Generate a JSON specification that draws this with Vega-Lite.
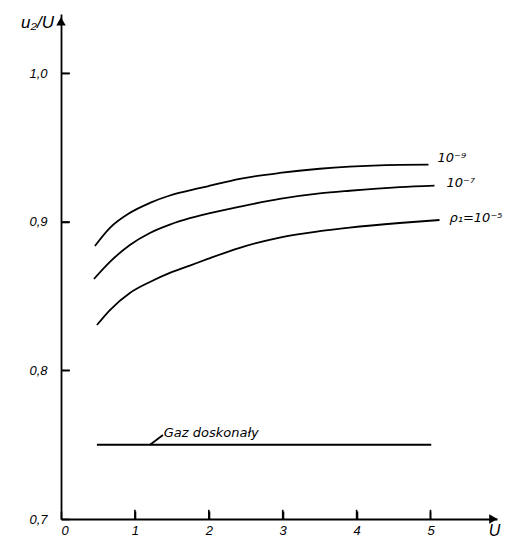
{
  "$schema": "https://vega.github.io/schema/vega-lite/v6.json",
  "autosize": "none",
  "width": 436,
  "height": 505,
  "padding": {"left": 61, "top": 14, "right": 12, "bottom": 22},
  "background": "white",
  "config": {
    "view": {"stroke": null},
    "font": "Liberation Sans",
    "axis": {
      "grid": false,
      "domainColor": "black",
      "domainWidth": 1.8,
      "tickColor": "black",
      "tickWidth": 1.6,
      "labelFont": "Liberation Sans",
      "labelFontStyle": "italic",
      "labelFontSize": 13,
      "labelColor": "black",
      "titleFont": "Liberation Sans",
      "titleFontStyle": "italic",
      "titleFontWeight": "normal",
      "titleColor": "black"
    }
  },
  "datasets": {
    "curves": [
      {"s": "p9", "u": 0.459, "v": 0.8838},
      {"s": "p9", "u": 0.662, "v": 0.8960},
      {"s": "p9", "u": 0.932, "v": 0.9061},
      {"s": "p9", "u": 1.203, "v": 0.9128},
      {"s": "p9", "u": 1.473, "v": 0.9178},
      {"s": "p9", "u": 1.743, "v": 0.9212},
      {"s": "p9", "u": 1.986, "v": 0.9240},
      {"s": "p9", "u": 2.419, "v": 0.9290},
      {"s": "p9", "u": 2.959, "v": 0.9330},
      {"s": "p9", "u": 3.5, "v": 0.9358},
      {"s": "p9", "u": 3.905, "v": 0.9372},
      {"s": "p9", "u": 4.581, "v": 0.9384},
      {"s": "p9", "u": 4.973, "v": 0.9386},
      {"s": "p7", "u": 0.446, "v": 0.8616},
      {"s": "p7", "u": 0.662, "v": 0.8731},
      {"s": "p7", "u": 0.932, "v": 0.8845},
      {"s": "p7", "u": 1.203, "v": 0.8926},
      {"s": "p7", "u": 1.473, "v": 0.8982},
      {"s": "p7", "u": 1.743, "v": 0.9025},
      {"s": "p7", "u": 1.986, "v": 0.9056},
      {"s": "p7", "u": 2.419, "v": 0.9103},
      {"s": "p7", "u": 2.959, "v": 0.9155},
      {"s": "p7", "u": 3.5, "v": 0.9192},
      {"s": "p7", "u": 3.905, "v": 0.9210},
      {"s": "p7", "u": 4.581, "v": 0.9234},
      {"s": "p7", "u": 5.054, "v": 0.9244},
      {"s": "p5", "u": 0.486, "v": 0.8306},
      {"s": "p5", "u": 0.662, "v": 0.8407},
      {"s": "p5", "u": 0.932, "v": 0.8522},
      {"s": "p5", "u": 1.203, "v": 0.8596},
      {"s": "p5", "u": 1.473, "v": 0.8657},
      {"s": "p5", "u": 1.743, "v": 0.8706},
      {"s": "p5", "u": 1.986, "v": 0.8751},
      {"s": "p5", "u": 2.419, "v": 0.8826},
      {"s": "p5", "u": 2.959, "v": 0.8895},
      {"s": "p5", "u": 3.5, "v": 0.8938},
      {"s": "p5", "u": 3.905, "v": 0.8962},
      {"s": "p5", "u": 4.581, "v": 0.8993},
      {"s": "p5", "u": 5.122, "v": 0.9013},
      {"s": "gaz", "u": 0.486, "v": 0.75},
      {"s": "gaz", "u": 5.01, "v": 0.75},
      {"s": "leader", "u": 1.2, "v": 0.7498},
      {"s": "leader", "u": 1.38, "v": 0.7565}
    ],
    "ticks": [
      {"s": "x1", "u": 1, "v": 0.7}, {"s": "x1", "u": 1, "v": 0.7062},
      {"s": "x2", "u": 2, "v": 0.7}, {"s": "x2", "u": 2, "v": 0.7062},
      {"s": "x3", "u": 3, "v": 0.7}, {"s": "x3", "u": 3, "v": 0.7062},
      {"s": "x4", "u": 4, "v": 0.7}, {"s": "x4", "u": 4, "v": 0.7062},
      {"s": "x5", "u": 5, "v": 0.7}, {"s": "x5", "u": 5, "v": 0.7062},
      {"s": "y8", "u": 0, "v": 0.8}, {"s": "y8", "u": 0.12, "v": 0.8},
      {"s": "y9", "u": 0, "v": 0.9}, {"s": "y9", "u": 0.12, "v": 0.9},
      {"s": "y10", "u": 0, "v": 1.0}, {"s": "y10", "u": 0.12, "v": 1.0}
    ],
    "labels": [
      {"u": 5.095, "v": 0.9431, "t": "10⁻⁹"},
      {"u": 5.216, "v": 0.9263, "t": "10⁻⁷"},
      {"u": 5.257, "v": 0.9027, "t": "ρ₁=10⁻⁵"},
      {"u": 1.39, "v": 0.7579, "t": "Gaz doskonały"}
    ],
    "arrows": [
      {"u": 5.85, "v": 0.7, "shape": "triangle-right"},
      {"u": 0, "v": 1.035, "shape": "triangle-up"}
    ]
  },
  "layer": [
    {
      "data": {"name": "curves"},
      "mark": {"type": "line", "interpolate": "monotone", "color": "black", "strokeWidth": 1.8},
      "encoding": {
        "x": {
          "field": "u", "type": "quantitative",
          "scale": {"domain": [0, 5.9], "nice": false, "zero": false},
          "axis": {
            "values": [0, 1, 2, 3, 4, 5],
            "format": "d",
            "ticks": true,
            "tickSize": -8,
            "labelPadding": 13,
            "labelFontSize": 13,
            "title": "U",
            "titleFontSize": 16,
            "titleX": 433,
            "titleY": 3,
            "titleAlign": "center",
            "titleBaseline": "top"
          }
        },
        "y": {
          "field": "v", "type": "quantitative",
          "scale": {"domain": [0.7, 1.04], "nice": false, "zero": false},
          "axis": {
            "values": [0.7, 0.8, 0.9, 1.0],
            "ticks": true,
            "tickSize": -8,
            "labelPadding": 22,
            "labelExpr": "replace(format(datum.value, '.1f'), '.', ',')",
            "title": "u₂/U",
            "titleFontSize": 17,
            "titleAngle": 0,
            "titleX": -24,
            "titleY": 8,
            "titleAlign": "center",
            "titleBaseline": "middle"
          }
        },
        "detail": {"field": "s"}
      }
    },
    {
      "data": {"name": "ticks"},
      "mark": {"type": "line", "color": "black", "strokeWidth": 1.6},
      "encoding": {
        "x": {"field": "u", "type": "quantitative"},
        "y": {"field": "v", "type": "quantitative"},
        "detail": {"field": "s"}
      }
    },
    {
      "data": {"name": "labels"},
      "mark": {"type": "text", "align": "left", "baseline": "middle", "fontStyle": "italic", "fontSize": 13, "color": "black", "font": "DejaVu Sans"},
      "encoding": {
        "x": {"field": "u", "type": "quantitative"},
        "y": {"field": "v", "type": "quantitative"},
        "text": {"field": "t"}
      }
    },
    {
      "data": {"name": "arrows"},
      "mark": {"type": "point", "filled": true, "color": "black", "size": 90, "opacity": 1},
      "encoding": {
        "x": {"field": "u", "type": "quantitative"},
        "y": {"field": "v", "type": "quantitative"},
        "shape": {"field": "shape", "type": "nominal", "scale": null}
      }
    }
  ]
}
